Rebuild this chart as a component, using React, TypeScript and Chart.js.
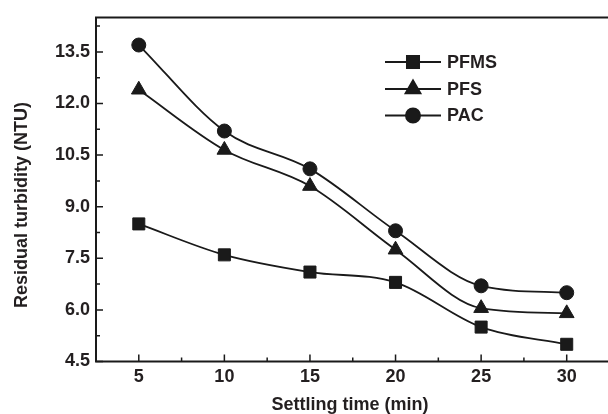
import { useEffect, useRef } from 'react';
import { Chart, registerables } from 'chart.js';
import { drawPoint } from 'chart.js/helpers';

Chart.register(...registerables);

const settlingTimes = [5, 10, 15, 20, 25, 30];
const pfmsValues = [8.5, 7.6, 7.1, 6.8, 5.5, 5.0];
const pfsValues = [12.4, 10.65, 9.6, 7.75, 6.05, 5.9];
const pacValues = [13.7, 11.2, 10.1, 8.3, 6.7, 6.5];
const seriesLabels = ['PFMS', 'PFS', 'PAC'];
const seriesStyles = ['rect', 'triangle', 'circle'];
const seriesRadius = [8.5, 8.5, 7];
const xTickValues = [5, 10, 15, 20, 25, 30];
const xMinorValues = [7.5, 12.5, 17.5, 22.5, 27.5];
const yTickValues = [4.5, 6.0, 7.5, 9.0, 10.5, 12.0, 13.5];
const yMinorValues = [5.25, 6.75, 8.25, 9.75, 11.25, 12.75, 14.25];
const xTitle = 'Settling time (min)';
const yTitle = 'Residual turbidity (NTU)';

const INK = '#1a1a1a';
const TEXT = '#231f20';
const FONT = '"Liberation Sans", Arial, sans-serif';
const FS = 18;

const framePlugin = {
  id: 'frame',
  beforeDatasetsDraw(chart: any) {
    const { ctx, chartArea, scales } = chart;
    const { left, top, right, bottom } = chartArea;
    const x = scales.x;
    const y = scales.y;
    ctx.save();
    ctx.strokeStyle = INK;
    ctx.lineWidth = 2;
    ctx.beginPath();
    ctx.moveTo(right + 4, top);
    ctx.lineTo(left, top);
    ctx.lineTo(left, bottom);
    ctx.lineTo(right + 4, bottom);
    ctx.stroke();
    ctx.lineWidth = 1.5;
    ctx.beginPath();
    yTickValues.forEach((v) => {
      const p = y.getPixelForValue(v);
      ctx.moveTo(left, p);
      ctx.lineTo(left + 7, p);
    });
    yMinorValues.forEach((v) => {
      const p = y.getPixelForValue(v);
      ctx.moveTo(left, p);
      ctx.lineTo(left + 4, p);
    });
    xTickValues.forEach((v) => {
      const p = x.getPixelForValue(v);
      ctx.moveTo(p, bottom);
      ctx.lineTo(p, bottom - 7);
    });
    xMinorValues.forEach((v) => {
      const p = x.getPixelForValue(v);
      ctx.moveTo(p, bottom);
      ctx.lineTo(p, bottom - 4);
    });
    ctx.stroke();
    ctx.restore();
  },
  afterDraw(chart: any) {
    const { ctx } = chart;
    ctx.save();
    ctx.fillStyle = TEXT;
    ctx.font = `bold ${FS}px ${FONT}`;
    ctx.textAlign = 'center';
    ctx.textBaseline = 'middle';
    ctx.fillText(xTitle, 350, 405.5);
    ctx.translate(22, 205);
    ctx.rotate(-Math.PI / 2);
    ctx.fillText(yTitle, 0, 0);
    ctx.restore();

    // legend
    ctx.save();
    ctx.font = `bold ${FS}px ${FONT}`;
    ctx.textAlign = 'left';
    ctx.textBaseline = 'middle';
    const lx0 = 385;
    const lx1 = 441;
    const rows = [62, 89, 115.5];
    chart.data.datasets.forEach((ds: any, i: number) => {
      const yy = rows[i];
      ctx.strokeStyle = INK;
      ctx.lineWidth = 2;
      ctx.beginPath();
      ctx.moveTo(lx0, yy);
      ctx.lineTo(lx1, yy);
      ctx.stroke();
      ctx.fillStyle = INK;
      drawPoint(ctx, { pointStyle: ds.pointStyle, radius: ds.pointRadius, rotation: 0, borderWidth: 1 }, (lx0 + lx1) / 2, yy);
      ctx.fillStyle = TEXT;
      ctx.fillText(ds.label, 447, yy + 1);
    });
    ctx.restore();
  },
};

export default function App() {
  const ref = useRef<HTMLCanvasElement | null>(null);
  useEffect(() => {
    if (!ref.current) return;
    const series = [pfmsValues, pfsValues, pacValues];
    const chart = new Chart(ref.current, {
      type: 'line',
      data: {
        datasets: series.map((vals, i) => ({
          label: seriesLabels[i],
          data: vals.map((v, j) => ({ x: settlingTimes[j], y: v })),
          borderColor: INK,
          backgroundColor: INK,
          borderWidth: 1.8,
          pointStyle: seriesStyles[i] as any,
          pointRadius: seriesRadius[i],
          pointBackgroundColor: INK,
          pointBorderColor: INK,
          pointBorderWidth: 1,
          cubicInterpolationMode: 'monotone' as const,
          fill: false,
        })),
      },
      options: {
        animation: false,
        responsive: false,
        layout: { padding: { top: 17.5, right: 0, left: 0, bottom: 0 } },
        plugins: { legend: { display: false }, tooltip: { enabled: false } },
        scales: {
          x: {
            type: 'linear',
            min: 2.5,
            max: 32.5,
            grid: { display: false, drawTicks: false },
            border: { display: false },
            afterBuildTicks: (s: any) => {
              s.ticks = xTickValues.map((v) => ({ value: v }));
            },
            afterFit: (s: any) => {
              s.height = 52.5;
              s.paddingLeft = 0;
              s.paddingRight = 0;
            },
            ticks: {
              padding: 5,
              color: TEXT,
              font: { family: FONT, size: FS, weight: 'bold' },
              maxRotation: 0,
              callback: (v: any) => String(v),
            },
          },
          y: {
            type: 'linear',
            min: 4.5,
            max: 14.5,
            grid: { display: false, drawTicks: false },
            border: { display: false },
            afterBuildTicks: (s: any) => {
              s.ticks = yTickValues.map((v) => ({ value: v }));
            },
            afterFit: (s: any) => {
              s.width = 96;
              s.paddingTop = 0;
              s.paddingBottom = 0;
            },
            ticks: {
              padding: 6,
              color: TEXT,
              font: { family: FONT, size: FS, weight: 'bold' },
              callback: (v: any) => Number(v).toFixed(1),
            },
          },
        },
      },
      plugins: [framePlugin],
    });
    return () => chart.destroy();
  }, []);
  return (
    <div style={{ position: 'fixed', left: 0, top: 0, width: 608, height: 414, overflow: 'hidden', background: '#fff' }}>
      <canvas ref={ref} width={619} height={414} style={{ display: 'block', width: 619, height: 414 }} />
    </div>
  );
}
